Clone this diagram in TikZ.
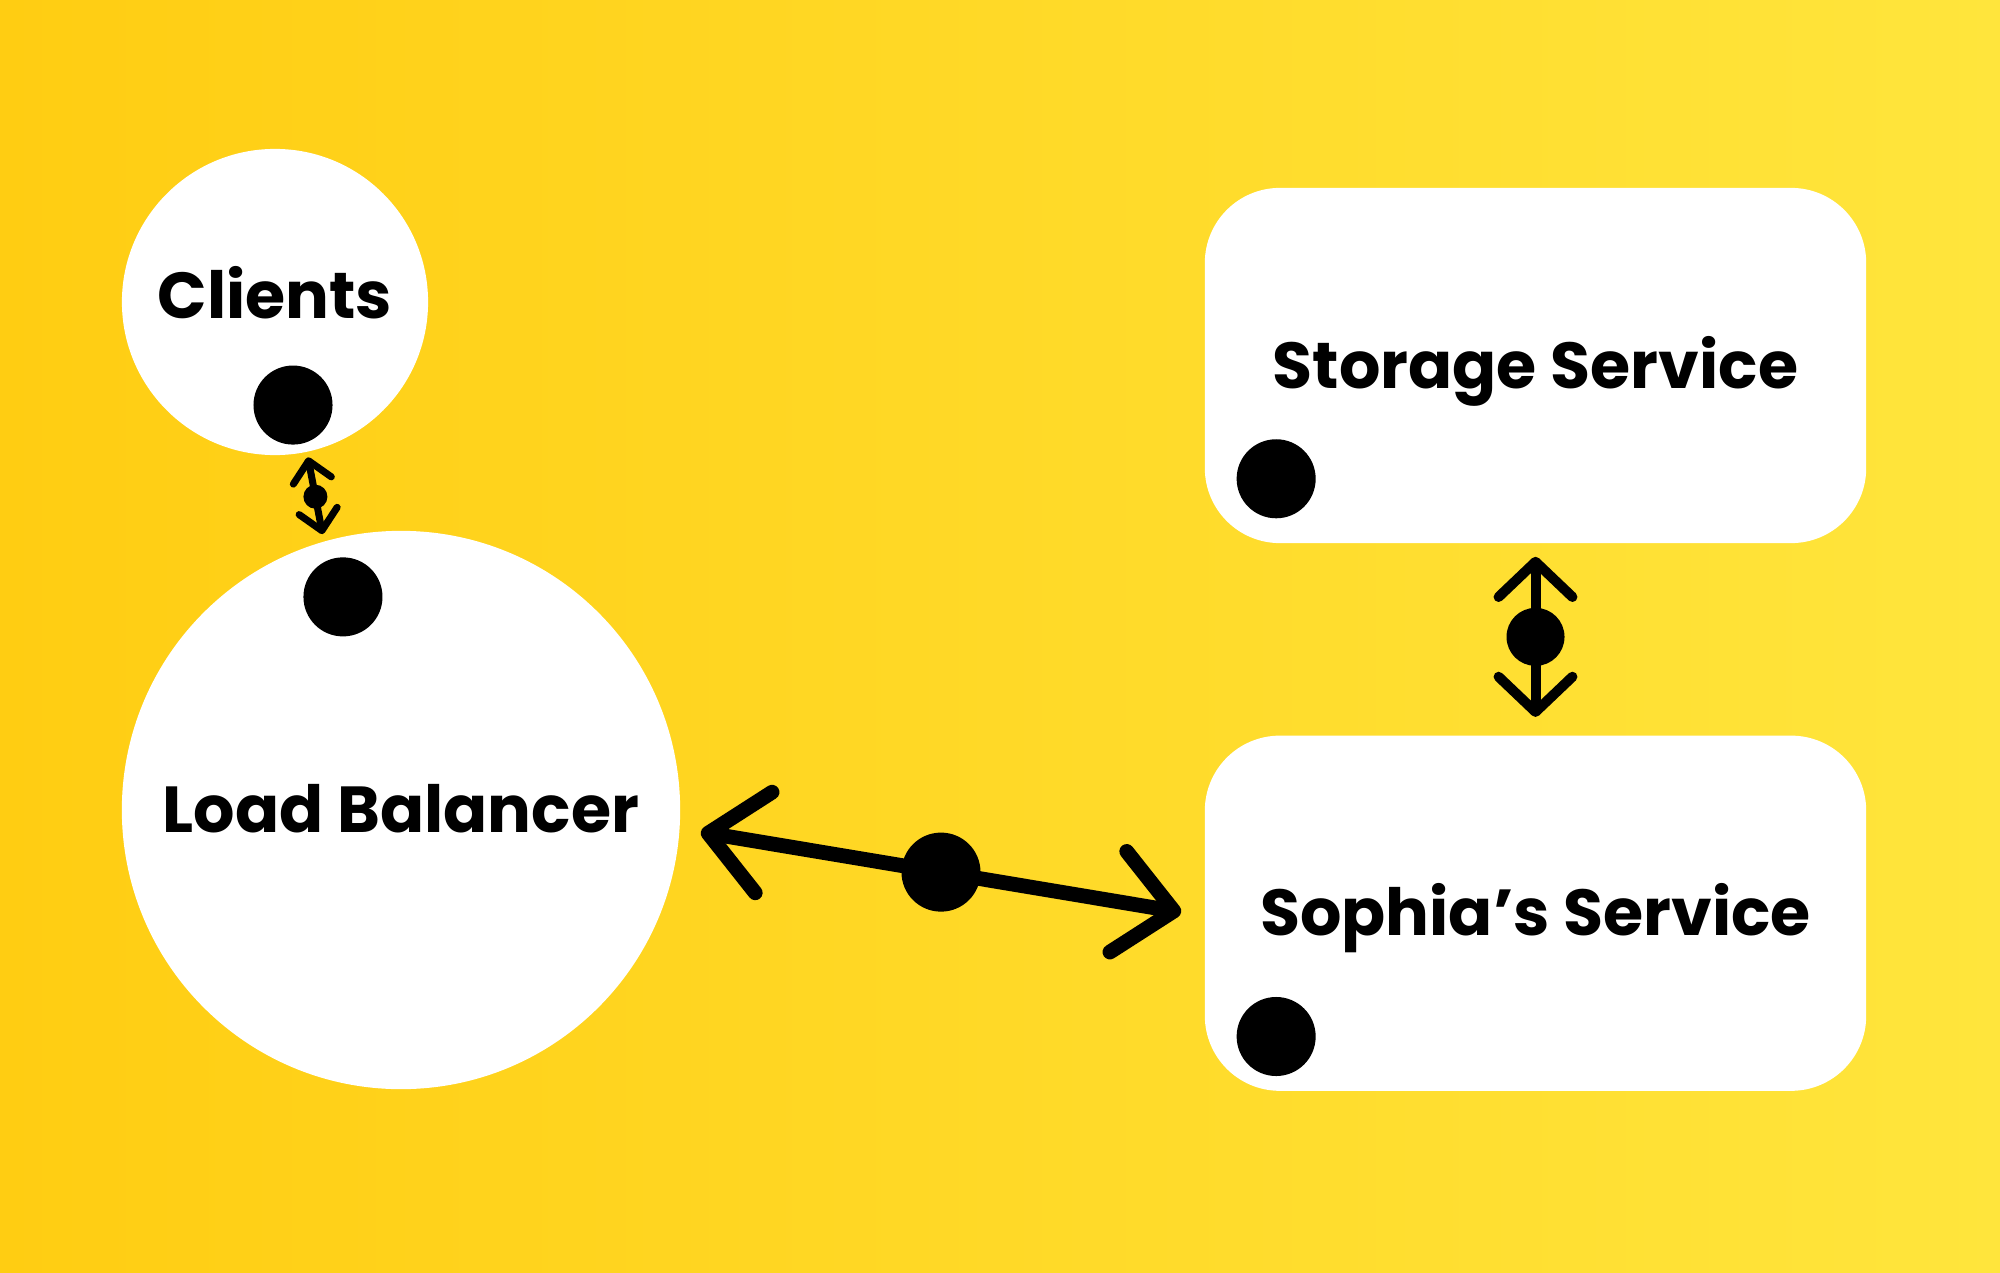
\documentclass[tikz,border=0pt]{standalone}
\usepackage{fontspec}
\setmainfont{Poppins}
\usepackage{tikz}
\usetikzlibrary{arrows.meta, positioning, calc}

\definecolor{bgleft}{HTML}{FFCD12}
\definecolor{bgright}{HTML}{FFE53C}

\begin{document}
\begin{tikzpicture}[
  x=0.01cm, y=-0.01cm,
  every node/.style={font=\fontsize{18.5}{22}\selectfont\bfseries},
  bubble/.style={circle, fill=white, inner sep=0pt,
                 text height=0.455cm, text depth=0pt},
  card/.style={rectangle, rounded corners=0.75cm, fill=white,
               minimum width=6.61cm, minimum height=3.55cm,
               text height=0.455cm, text depth=0pt},
  port/.style={circle, fill=black, inner sep=0pt, minimum size=0.79cm},
  hub/.style={circle, fill=black, inner sep=0pt},
  wire/.style={draw=black, line cap=round, line join=round, <->},
  thin wire/.style={wire, line width=2pt,
                    >={Straight Barb[round, length=5.7pt, width=11pt]}},
  mid wire/.style={wire, line width=2.85pt,
                   >={Straight Barb[round, length=10pt, width=21pt]}},
  thick wire/.style={wire, line width=4.2pt,
                     >={Straight Barb[round, length=16pt, width=29pt]}},
]
% Background
\shade[left color=bgleft, right color=bgright] (0,0) rectangle (2000,1273);

% Clients and load balancer
\node[bubble, minimum size=3.06cm, text depth=0.13cm] (clients) at (275,302) {Clients};
\node[bubble, minimum size=5.58cm] (lb) at (401,810) {Load Balancer};

% Services
\node[card] (storage) at (1535.5,365.5) {Storage Service};
\node[card, below=1.91cm of storage] (sophia) {Sophia’s Service};

% Ports
\node[port] (clientsport) at ([xshift=0.18cm, yshift=-1.03cm]clients.center) {};
\node[port] (lbport) at ([xshift=-0.58cm, yshift=2.13cm]lb.center) {};
\node[port] (storageport) at ([xshift=0.72cm, yshift=0.65cm]storage.south west) {};
\node[port] (sophiaport) at ([xshift=0.72cm, yshift=0.55cm]sophia.south west) {};

% Links
\draw[thin wire, shorten <=0.05cm, shorten >=0.07cm]
  (clients.-78) -- node[hub, minimum size=0.24cm] (hubclients) {} (lb.106);
\draw[thick wire]
  ($(lb.east)+(20,22)$) -- node[hub, minimum size=0.79cm] (hublb) {} ($(sophia.west)+(-23,-1)$);
\draw[mid wire]
  ($(storage.south)+(0,13)$) -- node[hub, minimum size=0.58cm] (hubstorage) {} ($(sophia.north)+(0,-18)$);
\end{tikzpicture}
\end{document}
